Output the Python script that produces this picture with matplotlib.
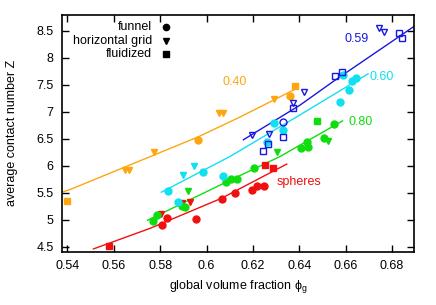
import matplotlib
matplotlib.use("Agg")
import matplotlib.pyplot as plt

plt.rcParams['font.family'] = ['Liberation Sans', 'DejaVu Sans']
plt.rcParams['mathtext.default'] = 'regular'
plt.rcParams['font.size'] = 9

# colours of the five series
c_red = '#f01010'
c_green = '#10dd10'
c_cyan = '#10e0f0'
c_blue = '#1818e0'
c_orange = '#ffa510'

# spheres (red)
red_funnel_x = [0.5807, 0.5831, 0.5955, 0.6066, 0.6123, 0.6195, 0.6216, 0.6248]
red_funnel_y = [4.90, 5.04, 5.02, 5.39, 5.49, 5.55, 5.62, 5.62]
red_grid_x = [0.5803, 0.5893, 0.5929]
red_grid_y = [5.10, 5.31, 5.33]
red_fluid_x = [0.5580, 0.6252, 0.6285]
red_fluid_y = [4.52, 6.01, 5.95]
red_fit_x = [0.5512, 0.5756, 0.6066, 0.6346]
red_fit_y = [4.46, 4.84, 5.40, 6.03]

# 0.80 (green)
green_funnel_x = [0.5771, 0.5788, 0.5893, 0.5907, 0.6084, 0.6104, 0.6133, 0.6205,
                  0.6406, 0.6434, 0.6437, 0.6508, 0.6550]
green_funnel_y = [4.98, 5.09, 5.25, 5.23, 5.69, 5.75, 5.75, 5.95,
                  6.32, 6.43, 6.35, 6.52, 6.77]
green_grid_x = [0.5919, 0.6305, 0.6525]
green_grid_y = [5.53, 6.26, 6.46]
green_fluid_x = [0.6475]
green_fluid_y = [6.83]
green_fit_x = [0.5745, 0.6087, 0.6317, 0.6587]
green_fit_y = [4.99, 5.70, 6.17, 6.83]

# 0.60 (cyan)
cyan_funnel_x = [0.5835, 0.5878, 0.5984, 0.6072, 0.6259, 0.6291, 0.6331,
                 0.6575, 0.6590, 0.6616, 0.6626, 0.6647]
cyan_funnel_y = [5.54, 5.33, 5.89, 5.81, 6.44, 6.79, 6.67,
                 7.17, 7.68, 7.41, 7.56, 7.62]
cyan_grid_x = [0.5897, 0.5947]
cyan_grid_y = [5.83, 6.00]
cyan_fit_x = [0.5805, 0.6101, 0.6403, 0.6697]
cyan_fit_y = [5.51, 6.17, 6.94, 7.70]

# 0.59 (blue, open symbols)
blue_funnel_x = [0.6328]
blue_funnel_y = [6.81]
blue_grid_x = [0.6195, 0.6271, 0.6374, 0.6422, 0.6745, 0.6766]
blue_grid_y = [6.57, 6.58, 7.16, 7.37, 8.54, 8.48]
blue_fluid_x = [0.6242, 0.6266, 0.6331, 0.6374, 0.6554, 0.6585, 0.6830, 0.6844]
blue_fluid_y = [6.28, 6.40, 6.54, 7.06, 7.66, 7.74, 8.46, 8.36]
blue_fit_x = [0.6159, 0.6403, 0.6547, 0.6896]
blue_fit_y = [6.48, 7.12, 7.56, 8.58]

# 0.40 (orange)
orange_funnel_x = [0.5962, 0.6361]
orange_funnel_y = [6.47, 7.29]
orange_grid_x = [0.5649, 0.5667, 0.5775, 0.6055, 0.6070, 0.6291]
orange_grid_y = [5.92, 5.92, 6.26, 6.97, 6.97, 7.23]
orange_fluid_x = [0.5399, 0.6383]
orange_fluid_y = [5.35, 7.48]
orange_fit_x = [0.5376, 0.5412, 0.5962, 0.6144, 0.6389]
orange_fit_y = [5.51, 5.56, 6.53, 6.90, 7.43]

legend_labels = ['funnel', 'horizontal grid', 'fluidized']
legend_markers = ['o', 'v', 's']

fig = plt.figure(figsize=(4.36, 3.05), dpi=100)
ax = fig.add_axes([0.142, 0.175, 0.808, 0.776])

ms_c, ms_t, ms_s = 5.0, 4.5, 5.0

def series(fx, fy, color, funnel, grid, fluid, open_sym=False):
    ax.plot(fx, fy, '-', color=color, lw=1.0, zorder=2)
    face = 'none' if open_sym else color
    for (xs, ys), m, ms in [(funnel, 'o', ms_c), (grid, 'v', ms_t), (fluid, 's', ms_s)]:
        if xs:
            ax.plot(xs, ys, ls='none', marker=m, ms=ms, mfc=face, mec=color,
                    mew=1.0, zorder=3)

series(orange_fit_x, orange_fit_y, c_orange, (orange_funnel_x, orange_funnel_y),
       (orange_grid_x, orange_grid_y), (orange_fluid_x, orange_fluid_y))
series(red_fit_x, red_fit_y, c_red, (red_funnel_x, red_funnel_y),
       (red_grid_x, red_grid_y), (red_fluid_x, red_fluid_y))
series(green_fit_x, green_fit_y, c_green, (green_funnel_x, green_funnel_y),
       (green_grid_x, green_grid_y), (green_fluid_x, green_fluid_y))
series(cyan_fit_x, cyan_fit_y, c_cyan, (cyan_funnel_x, cyan_funnel_y),
       (cyan_grid_x, cyan_grid_y), ([], []))
series(blue_fit_x, blue_fit_y, c_blue, (blue_funnel_x, blue_funnel_y),
       (blue_grid_x, blue_grid_y), (blue_fluid_x, blue_fluid_y), open_sym=True)

# curve labels
ax.text(0.6123, 7.55, '0.40', color=c_orange, ha='center', va='center')
ax.text(0.6647, 8.34, '0.59', color=c_blue, ha='center', va='center')
ax.text(0.6755, 7.64, '0.60', color=c_cyan, ha='center', va='center')
ax.text(0.6666, 6.80, '0.80', color=c_green, ha='center', va='center')
ax.text(0.6399, 5.69, 'spheres', color=c_red, ha='center', va='center')

# key in the upper left, gnuplot style (text right, symbol after)
for i, (lab, m) in enumerate(zip(legend_labels, legend_markers)):
    yy = 0.948 - i * 0.0565
    ax.text(0.256, yy, lab, transform=ax.transAxes, ha='right', va='center')
    ax.plot([0.295], [yy], transform=ax.transAxes, ls='none', marker=m,
            ms=4.5 if m != 'v' else 4.0, color='black', clip_on=False)

ax.set_xlim(0.5376, 0.6896)
ax.set_ylim(4.41, 8.79)
ax.set_xticks([0.54, 0.56, 0.58, 0.6, 0.62, 0.64, 0.66, 0.68])
ax.set_xticklabels(['0.54', '0.56', '0.58', '0.6', '0.62', '0.64', '0.66', '0.68'])
ax.set_yticks([4.5, 5, 5.5, 6, 6.5, 7, 7.5, 8, 8.5])
ax.set_yticklabels(['4.5', '5', '5.5', '6', '6.5', '7', '7.5', '8', '8.5'])
ax.tick_params(direction='in', top=True, right=True, length=5, width=1,
               labelsize=9, pad=6)
for s in ax.spines.values():
    s.set_linewidth(1.2)

ax.set_xlabel('global volume fraction ϕ$_{g}$', labelpad=4)
ax.set_ylabel('average contact number Z')
ax.yaxis.set_label_coords(-0.125, 0.5)

fig.savefig('out.png', dpi=100)
